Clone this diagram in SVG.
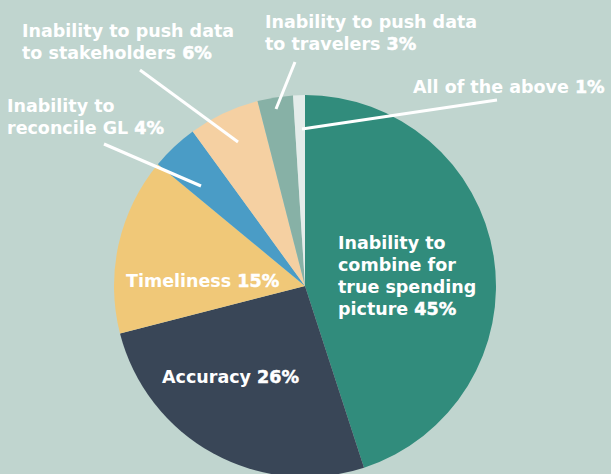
<svg xmlns="http://www.w3.org/2000/svg" width="611" height="474" viewBox="0 0 611 474">
<style>
.lbl{font-family:"DejaVu Sans","Open Sans",sans-serif;font-weight:700;font-size:17.5px;fill:#ffffff}
.num{stroke:#ffffff;stroke-width:0.5}
.lead{stroke:#ffffff;stroke-width:3;fill:none}
</style>
<rect x="0" y="0" width="611" height="474" fill="#c0d5cf"/>
<g id="slices">
<path id="s-combine" d="M305,286 L305,95 A191,191 0 0 1 364.02,467.65 Z" fill="#318c7c"/>
<path id="s-accuracy" d="M305,286 L364.02,467.65 A191,191 0 0 1 120,333.5 Z" fill="#394657"/>
<path id="s-timeliness" d="M305,286 L120,333.5 A191,191 0 0 1 157.83,164.25 Z" fill="#f0c878"/>
<path id="s-reconcile" d="M305,286 L157.83,164.25 A191,191 0 0 1 192.73,131.48 Z" fill="#4a9cc6"/>
<path id="s-stakeholders" d="M305,286 L192.73,131.48 A191,191 0 0 1 257.5,101 Z" fill="#f5d0a2"/>
<path id="s-travelers" d="M305,286 L257.5,101 A191,191 0 0 1 293.01,95.38 Z" fill="#87b1a6"/>
<path id="s-all" d="M305,286 L293.01,95.38 A191,191 0 0 1 305,95 Z" fill="#e4ecea"/>
</g>
<g id="connectors">
<line class="lead" x1="140" y1="70" x2="238" y2="142"/>
<line class="lead" x1="104" y1="144" x2="201" y2="186"/>
<line class="lead" x1="295" y1="62" x2="276" y2="109"/>
<line class="lead" x1="497" y1="100" x2="302" y2="129"/>
</g>
<g id="n-stakeholders">
<text class="lbl" x="22" y="37">Inability to push data</text>
<text class="lbl" x="22" y="59">to stakeholders <tspan class="num">6%</tspan></text>
</g>
<g id="n-reconcile">
<text class="lbl" x="7" y="112">Inability to</text>
<text class="lbl" x="7" y="134">reconcile GL <tspan class="num">4%</tspan></text>
</g>
<g id="n-travelers">
<text class="lbl" x="265" y="28">Inability to push data</text>
<text class="lbl" x="265" y="50">to travelers <tspan class="num">3%</tspan></text>
</g>
<g id="n-all">
<text class="lbl" x="413" y="93">All of the above <tspan class="num">1%</tspan></text>
</g>
<g id="n-timeliness">
<text class="lbl" x="126" y="287">Timeliness <tspan class="num">15%</tspan></text>
</g>
<g id="n-accuracy">
<text class="lbl" x="162" y="383">Accuracy <tspan class="num">26%</tspan></text>
</g>
<g id="n-combine">
<text class="lbl" x="338" y="249">Inability to</text>
<text class="lbl" x="338" y="271">combine for</text>
<text class="lbl" x="338" y="293">true spending</text>
<text class="lbl" x="338" y="315">picture <tspan class="num">45%</tspan></text>
</g>
</svg>
